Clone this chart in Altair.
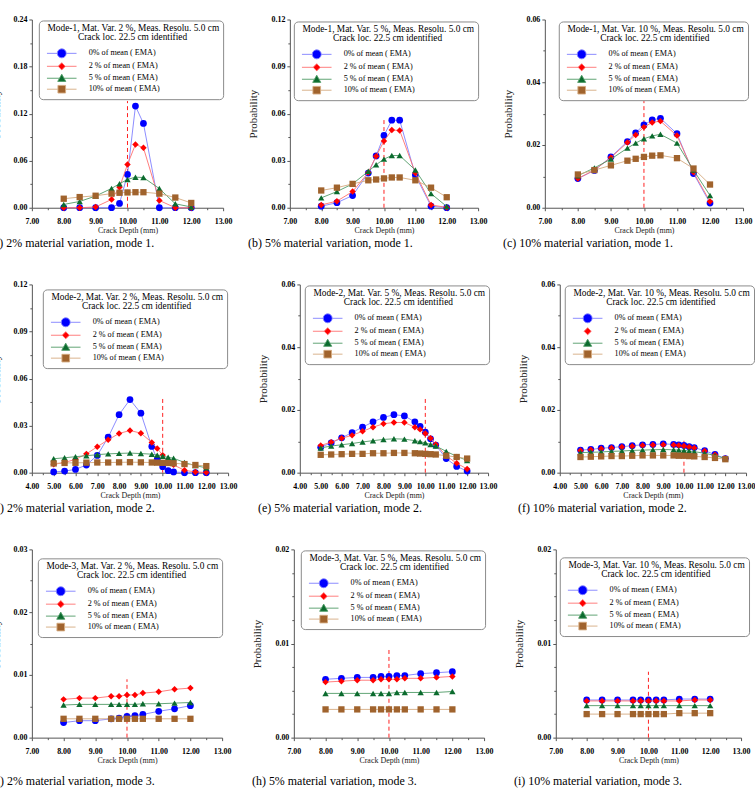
import altair as alt
import pandas as pd

FONT = "Liberation Serif"
SERIES = ["0% of mean ( EMA)", "2 % of mean ( EMA)", "5 % of mean ( EMA)", "10% of mean ( EMA)"]
MARKER_COLORS = ["#0000ff", "#ff0000", "#0b6b2e", "#a0632d"]
LINE_COLORS = ["#8080ff", "#ff7070", "#4f9a66", "#d4aa7f"]
MARKER_SHAPES = ["circle", "diamond", "triangle-up", "square"]
MARKER_SIZES = [46, 42, 40, 40]
LEGEND_PATHS = [
    "M-3.3,0L-1,0M1,0L3.3,0M1,0A1,1,0,1,1,-1,0A1,1,0,1,1,1,0Z",
    "M-3.3,0L-0.8,0M0.8,0L3.3,0M0,-0.8L0.8,0L0,0.8L-0.8,0Z",
    "M-3.3,0L-0.5,0M0.5,0L3.3,0M0,-0.9L0.9,0.7L-0.9,0.7Z",
    "M-3.3,0L-0.85,0M0.85,0L3.3,0M-0.85,-0.85L0.85,-0.85L0.85,0.85L-0.85,0.85Z",
]
RED_NO_LINE = "M-3.3,0L-3.3,0M3.3,0L3.3,0M0,-0.8L0.8,0L0,0.8L-0.8,0Z"

X_MODE1 = [8.0, 8.5, 9.0, 9.5, 9.75, 10.0, 10.25, 10.5, 11.0, 11.5, 12.0]
X_MODE2 = [5.0, 5.5, 6.0, 6.5, 7.0, 7.5, 8.0, 8.5, 9.0, 9.5, 9.75, 10.0, 10.25, 10.5, 11.0, 11.5, 12.0]
X_MODE3 = [8.0, 8.5, 9.0, 9.5, 9.75, 10.0, 10.25, 10.5, 11.0, 11.5, 12.0]

# (a) mode 1, 2 %
A0 = [0.0, 0.0, 0.0, 0.0, 0.0055, 0.0425, 0.1296, 0.1075, 0.0, 0.0, 0.0]
A2 = [0.0, 0.0, 0.001, 0.0106, 0.026, 0.0552, 0.0807, 0.0765, 0.0093, 0.0, 0.0]
A5 = [0.0042, 0.008, 0.0149, 0.0246, 0.0306, 0.0361, 0.039, 0.0385, 0.0244, 0.005, 0.001]
A10 = [0.0115, 0.0136, 0.0153, 0.018, 0.0191, 0.0195, 0.0198, 0.0198, 0.018, 0.013, 0.0061]
# (b) mode 1, 5 %
B0 = [0.001, 0.0032, 0.0078, 0.0221, 0.033, 0.0461, 0.0558, 0.0558, 0.0208, 0.001, 0.0]
B2 = [0.0018, 0.0042, 0.0103, 0.0225, 0.0328, 0.0425, 0.0495, 0.0493, 0.0222, 0.0018, 0.0002]
B5 = [0.0063, 0.0103, 0.0152, 0.0232, 0.0274, 0.031, 0.0333, 0.0333, 0.024, 0.009, 0.0008]
B10 = [0.011, 0.0128, 0.0152, 0.0175, 0.018, 0.0187, 0.0193, 0.0193, 0.0175, 0.0128, 0.0067]
# (c) mode 1, 10 %
C0 = [0.0093, 0.0119, 0.0162, 0.0211, 0.0239, 0.0264, 0.028, 0.0285, 0.0236, 0.0109, 0.0015]
C2 = [0.0093, 0.012, 0.016, 0.0208, 0.0232, 0.0257, 0.0272, 0.0276, 0.023, 0.0113, 0.002]
C5 = [0.0102, 0.0127, 0.0155, 0.019, 0.0206, 0.022, 0.0229, 0.0234, 0.0206, 0.012, 0.0039]
C10 = [0.0106, 0.012, 0.0135, 0.015, 0.0156, 0.0162, 0.0166, 0.0167, 0.0158, 0.0125, 0.0074]
# (d) mode 2, 2 %
D0 = [0.0005, 0.001, 0.0021, 0.0049, 0.011, 0.0226, 0.037, 0.0466, 0.0379, 0.0167, 0.0085, 0.0038, 0.0013, 0.0005, 0.0, 0.0, 0.0]
D2 = [0.0053, 0.0065, 0.0085, 0.012, 0.0165, 0.021, 0.025, 0.0269, 0.0252, 0.0193, 0.0154, 0.0112, 0.0072, 0.005, 0.0015, 0.0005, 0.0001]
D5 = [0.0089, 0.0095, 0.0102, 0.0108, 0.0115, 0.012, 0.0123, 0.0125, 0.0122, 0.0118, 0.0112, 0.0105, 0.0098, 0.0092, 0.0065, 0.0045, 0.0031]
D10 = [0.0059, 0.0062, 0.0063, 0.0064, 0.0065, 0.0065, 0.0066, 0.0067, 0.0066, 0.0065, 0.0064, 0.0063, 0.0062, 0.006, 0.0055, 0.0049, 0.0042]
# (e) mode 2, 5 %
E0 = [0.0081, 0.0095, 0.0111, 0.0128, 0.0145, 0.0162, 0.0176, 0.0185, 0.0181, 0.0162, 0.0148, 0.0129, 0.0108, 0.0088, 0.0045, 0.002, 0.0005]
E2 = [0.0087, 0.0097, 0.011, 0.0119, 0.0132, 0.0145, 0.0156, 0.016, 0.016, 0.0145, 0.0138, 0.0125, 0.011, 0.009, 0.0054, 0.003, 0.0012]
E5 = [0.0079, 0.0085, 0.0089, 0.0093, 0.0098, 0.0102, 0.0106, 0.0108, 0.0107, 0.0102, 0.0099, 0.0095, 0.009, 0.0085, 0.0068, 0.0052, 0.0039]
E10 = [0.0057, 0.0058, 0.0059, 0.006, 0.006, 0.0062, 0.0062, 0.0063, 0.0063, 0.0062, 0.0061, 0.006, 0.0059, 0.0058, 0.0054, 0.005, 0.0045]
# (f) mode 2, 10 %
F0 = [0.0072, 0.0074, 0.0078, 0.008, 0.0083, 0.0086, 0.0089, 0.009, 0.0092, 0.009, 0.0089, 0.0087, 0.0083, 0.008, 0.007, 0.0058, 0.0045]
F2 = [0.0071, 0.0073, 0.0076, 0.0079, 0.0082, 0.0084, 0.0087, 0.0088, 0.0089, 0.0088, 0.0087, 0.0085, 0.0082, 0.0079, 0.0069, 0.0057, 0.0045]
F5 = [0.0064, 0.0065, 0.0066, 0.0068, 0.0069, 0.0071, 0.0072, 0.0073, 0.0074, 0.0073, 0.0072, 0.0071, 0.0069, 0.0067, 0.0062, 0.0055, 0.0045]
F10 = [0.005, 0.0051, 0.0052, 0.0053, 0.0053, 0.0054, 0.0055, 0.0055, 0.0055, 0.0055, 0.0054, 0.0054, 0.0053, 0.0052, 0.005, 0.0047, 0.0043]
# (g) mode 3, 2 %
G0 = [0.0024, 0.0027, 0.0027, 0.003, 0.0031, 0.0034, 0.0035, 0.0037, 0.0042, 0.0046, 0.0051]
G2 = [0.0061, 0.0063, 0.0063, 0.0066, 0.0066, 0.0068, 0.0068, 0.0071, 0.0073, 0.0077, 0.0079]
G5 = [0.0052, 0.0053, 0.0053, 0.0053, 0.0053, 0.0053, 0.0053, 0.0054, 0.0054, 0.0055, 0.0056]
G10 = [0.003, 0.003, 0.003, 0.003, 0.003, 0.003, 0.003, 0.003, 0.003, 0.003, 0.003]
# (h) mode 3, 5 %
H0 = [0.0062, 0.0063, 0.0064, 0.0064, 0.0065, 0.0065, 0.0066, 0.0066, 0.0068, 0.0069, 0.007]
H2 = [0.0059, 0.006, 0.0061, 0.0061, 0.0062, 0.0062, 0.0062, 0.0063, 0.0063, 0.0064, 0.0065]
H5 = [0.0047, 0.0047, 0.0047, 0.0047, 0.0047, 0.0047, 0.0048, 0.0048, 0.0048, 0.0048, 0.0049]
H10 = [0.003, 0.003, 0.003, 0.003, 0.003, 0.003, 0.003, 0.003, 0.003, 0.003, 0.003]
# (i) mode 3, 10 %
I0 = [0.004, 0.004, 0.004, 0.004, 0.004, 0.004, 0.004, 0.004, 0.0041, 0.0041, 0.0041]
I2 = [0.0039, 0.0039, 0.0039, 0.0039, 0.0039, 0.0039, 0.0039, 0.0039, 0.0039, 0.004, 0.004]
I5 = [0.0034, 0.0034, 0.0034, 0.0034, 0.0034, 0.0034, 0.0034, 0.0034, 0.0034, 0.0034, 0.0034]
I10 = [0.0025, 0.0025, 0.0025, 0.0025, 0.0025, 0.0025, 0.0025, 0.0025, 0.0026, 0.0026, 0.0026]

CAPTIONS = [
    "(a) 2% material variation, mode 1.", "(b) 5% material variation, mode 1.", "(c) 10% material variation, mode 1.",
    "(d) 2% material variation, mode 2.", "(e) 5% material variation, mode 2.", "(f) 10% material variation, mode 2.",
    "(g) 2% material variation, mode 3.", "(h) 5% material variation, mode 3.", "(i) 10% material variation, mode 3.",
]
LEGEND_TITLES = [
    "Mode-1, Mat. Var. 2 %, Meas. Resolu. 5.0 cm", "Mode-1, Mat. Var. 5 %, Meas. Resolu. 5.0 cm",
    "Mode-1, Mat. Var. 10 %, Meas. Resolu. 5.0 cm", "Mode-2, Mat. Var. 2 %, Meas. Resolu. 5.0 cm",
    "Mode-2, Mat. Var. 5 %, Meas. Resolu. 5.0 cm", "Mode-2, Mat. Var. 10 %, Meas. Resolu. 5.0 cm",
    "Mode-3, Mat. Var. 2 %, Meas. Resolu. 5.0 cm", "Mode-3, Mat. Var. 5 %, Meas. Resolu. 5.0 cm",
    "Mode-3, Mat. Var. 10 %, Meas. Resolu. 5.0 cm",
]
LEGEND_LINE2 = "Crack loc. 22.5 cm identified"
PANEL_Y = [[A0, A2, A5, A10], [B0, B2, B5, B10], [C0, C2, C5, C10],
           [D0, D2, D5, D10], [E0, E2, E5, E10], [F0, F2, F5, F10],
           [G0, G2, G5, G10], [H0, H2, H5, H10], [I0, I2, I5, I10]]
PANEL_X = [X_MODE1, X_MODE1, X_MODE1, X_MODE2, X_MODE2, X_MODE2, X_MODE3, X_MODE3, X_MODE3]
X_MIN = [7, 7, 7, 4, 4, 4, 7, 7, 7]
Y_MAX = [0.24, 0.12, 0.06, 0.12, 0.06, 0.06, 0.03, 0.02, 0.02]
Y_MAJOR = [0.06, 0.03, 0.02, 0.03, 0.02, 0.02, 0.01, 0.01, 0.01]
Y_MINOR = [0.03, 0.015, 0.01, 0.015, 0.01, 0.01, 0.005, 0.0025, 0.0025]
RULE_TOP = [0.136, 0.057, 0.034, 0.048, 0.024, 0.011, 0.0093, 0.0096, 0.007]
WIDTHS = [192, 189, 199, 197, 189, 187, 191, 191, 186]
LEG_X = [7, 4, 14, 11, 5, 5, 6, 7, 4]
LEG_Y = [1, 2, 2, 5, 1, 1, 9, 1, 8]
CAPTION_OFFSET = [3, 3, 3, 3, 3, 3, 12, 12, 12]
ROW_SPACING = [16, 21, 21]
NO_LINE = [[], [], [], [], [], [SERIES[1]], [], [], []]
NBSP = "\u00a0"
ZWSP = "\u200b"


def tick_values(lo, hi, step):
    n = int(round((hi - lo) / step))
    return [round(lo + i * step, 6) for i in range(n + 1)]


def axis(values, major, title, orient, **kw):
    test = f"abs(datum.value / {major} - round(datum.value / {major})) < 0.001"
    return alt.Axis(
        values=values,
        labelExpr=f"{test} ? format(datum.value, '.2f') : ''",
        tickSize={"condition": {"test": test, "value": 3}, "value": 2},
        title=title, grid=False, labelOverlap=False, labelFlush=False, labelBound=False,
        labelFont=FONT, titleFont=FONT, orient=orient, **kw,
    )


def make_panel(k):
    rows = []
    for s, ys in zip(SERIES, PANEL_Y[k]):
        for x, y in zip(PANEL_X[k], ys):
            rows.append({"x": x, "p": y, "series": s})
    df = pd.DataFrame(rows)
    xscale = alt.Scale(domain=[X_MIN[k], 13], nice=False, zero=False)
    yscale = alt.Scale(domain=[0, Y_MAX[k]], nice=False)
    xaxis = axis(tick_values(X_MIN[k], 13, 0.5), 1, "Crack Depth (mm)", "bottom",
                 labelPadding=7, titlePadding=1, titleFontSize=8)
    yaxis = axis(tick_values(0, Y_MAX[k], Y_MINOR[k]), Y_MAJOR[k], "Probability", "left",
                 labelPadding=2, titlePadding=12, titleFontSize=11)
    X = alt.X("x:Q", scale=xscale, axis=xaxis)
    Y = alt.Y("p:Q", scale=yscale, axis=yaxis)

    rule_df = pd.DataFrame({"x": [10.0], "p": [0.0], "p2": [RULE_TOP[k]]})
    layers = [alt.Chart(rule_df).mark_rule(color="#ff2020", strokeDash=[4, 3], strokeWidth=1)
              .encode(x=X, y=Y, y2="p2:Q")]
    base = alt.Chart(df)
    for i, s in enumerate(SERIES):
        sub = base.transform_filter(alt.datum.series == s)
        if s not in NO_LINE[k]:
            layers.append(sub.mark_line(color=LINE_COLORS[i], strokeWidth=0.9).encode(x=X, y=Y))
        layers.append(sub.mark_point(shape=MARKER_SHAPES[i], filled=True, opacity=1,
                                     color=MARKER_COLORS[i], size=MARKER_SIZES[i]).encode(x=X, y=Y))
    paths = list(LEGEND_PATHS)
    if SERIES[1] in NO_LINE[k]:
        paths[1] = RED_NO_LINE
    # title lines are left-anchored; leading non-breaking spaces centre the second line
    indent2 = 16 if "10 %" in LEGEND_TITLES[k] else 15
    title = [ZWSP + NBSP * 2 + LEGEND_TITLES[k], ZWSP + NBSP * indent2 + LEGEND_LINE2]
    leg = alt.Legend(orient="none", legendX=LEG_X[k], legendY=LEG_Y[k],
                     title=title, titleFont=FONT, labelFont=FONT)
    layers.append(
        base.transform_filter("false").mark_point(filled=True).encode(
            x=X, y=Y,
            fill=alt.Fill("series:N", scale=alt.Scale(domain=SERIES, range=MARKER_COLORS), legend=leg),
            stroke=alt.Stroke("series:N", scale=alt.Scale(domain=SERIES, range=LINE_COLORS), legend=leg),
            shape=alt.Shape("series:N", scale=alt.Scale(domain=SERIES, range=paths), legend=leg),
        )
    )
    return alt.layer(*layers).properties(
        width=WIDTHS[k], height=189,
        title=alt.TitleParams(CAPTIONS[k], orient="bottom", anchor="start", offset=CAPTION_OFFSET[k],
                              font=FONT, fontSize=12, fontWeight="normal", color="black"),
    )


RES = dict(fill="independent", stroke="independent", shape="independent")
rows = []
for r in range(3):
    rows.append(alt.hconcat(*[make_panel(3 * r + c) for c in range(3)],
                            spacing=ROW_SPACING[r]).resolve_scale(**RES))

chart = alt.vconcat(*rows, spacing=32).resolve_scale(**RES).properties(
    padding={"left": -10, "top": 14, "right": 0, "bottom": 0}
).configure_view(stroke=None).configure_axis(
    labelFont=FONT, labelFontSize=8, labelFontWeight="bold", labelColor="black",
    titleFont=FONT, titleFontWeight="normal", titleColor="#222",
    domainColor="#555", tickColor="#555", domainWidth=1, tickWidth=1,
).configure_legend(
    titleFont=FONT, titleFontSize=9.4, titleFontWeight="normal", titleColor="black",
    titleAnchor="start", titleAlign="left", titleLineHeight=8.6, titlePadding=6, titleLimit=400,
    labelFont=FONT, labelFontSize=8.2, labelColor="black", labelOffset=22, labelLimit=400,
    symbolSize=81, symbolOffset=14, symbolStrokeWidth=0.9, symbolOpacity=1,
    strokeColor="#8a8a8a", cornerRadius=4, padding=4, fillColor="white", rowPadding=0,
)

chart.save("out.html", embed_options={"renderer": "svg", "actions": False})
